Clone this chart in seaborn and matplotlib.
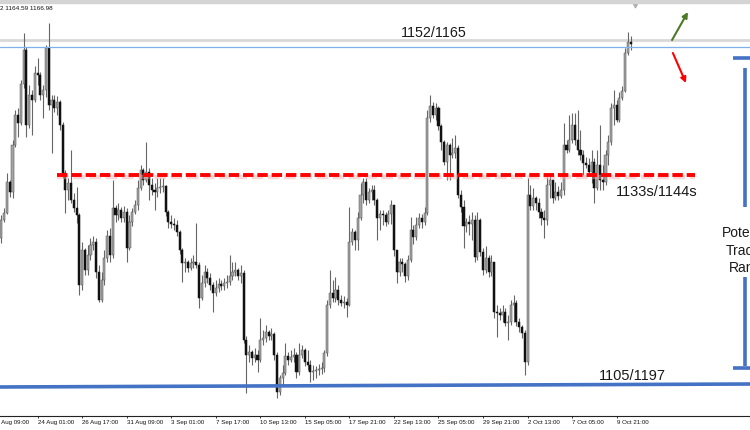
import matplotlib
matplotlib.use("Agg")
import matplotlib.pyplot as plt
from matplotlib.patches import Rectangle
import numpy as np
import pandas as pd
import seaborn as sns

# ---------------- data (H4 candles, price units) ----------------
first_open = 962
closes = [
    980, 987, 1018, 1008, 1055, 1085, 1077, 1116, 1150, 1075,
    1105, 1100, 1127, 1125, 1105, 1110, 1152, 1095, 1100, 1092,
    1098, 1075, 1027, 1010, 1017, 1000, 992, 985, 915, 950,
    930, 945, 955, 958, 928, 900, 920, 942, 964, 945,
    992, 985, 990, 982, 988, 952, 978, 988, 995, 1012,
    1030, 1020, 1028, 1015, 1010, 1008, 1012, 1013, 1014, 988,
    978, 976, 975, 968, 950, 937, 938, 932, 937, 938,
    935, 902, 917, 928, 922, 915, 907, 912, 916, 914,
    917, 918, 924, 928, 930, 924, 927, 860, 845, 848,
    842, 845, 840, 860, 862, 868, 864, 866, 845, 808,
    822, 827, 844, 840, 843, 845, 828, 845, 850, 838,
    835, 828, 829, 830, 831, 832, 847, 895, 907, 902,
    910, 900, 897, 898, 895, 958, 968, 960, 982, 1005,
    1018, 1000, 1008, 1010, 1000, 982, 986, 985, 978, 986,
    995, 950, 928, 938, 936, 924, 940, 970, 963, 975,
    982, 978, 987, 1082, 1094, 1085, 1092, 1074, 1058, 1038,
    1055, 1045, 1047, 1052, 1005, 993, 974, 978, 976, 980,
    943, 980, 948, 930, 942, 928, 938, 888, 887, 885,
    888, 877, 878, 895, 897, 878, 873, 867, 838, 1005,
    994, 1002, 997, 988, 982, 980, 1015, 1020, 1002, 1008,
    1004, 1010, 1055, 1050, 1060, 1075, 1060, 1050, 1045, 1037,
    1035, 1028, 1038, 1012, 1035, 1020, 1018, 1045, 1058, 1092,
    1095, 1080, 1102, 1109, 1147, 1158, 1156,
]
highs = [
    985, 992, 1027, 1020, 1060, 1090, 1092, 1120, 1167, 1153,
    1115, 1110, 1134, 1142, 1128, 1115, 1155, 1177, 1105, 1105,
    1104, 1100, 1078, 1030, 1022, 1050, 1007, 1013, 987, 958,
    952, 955, 962, 964, 962, 935, 928, 950, 970, 972,
    1020, 995, 997, 993, 994, 992, 985, 992, 1000, 1020,
    1035, 1032, 1058, 1032, 1022, 1017, 1022, 1022, 1022, 1015,
    990, 985, 982, 980, 970, 952, 942, 940, 942, 945,
    977, 938, 925, 935, 932, 927, 918, 920, 922, 920,
    922, 925, 945, 938, 938, 932, 935, 930, 864, 855,
    850, 852, 850, 882, 870, 875, 870, 872, 868, 848,
    825, 835, 857, 848, 850, 852, 848, 857, 855, 852,
    850, 840, 835, 834, 836, 838, 850, 900, 930, 920,
    923, 915, 905, 904, 902, 993, 972, 970, 988, 1017,
    1022, 1022, 1012, 1015, 1015, 1002, 990, 990, 988, 990,
    1000, 995, 950, 942, 942, 938, 945, 983, 975, 983,
    987, 986, 993, 1090, 1105, 1098, 1097, 1094, 1076, 1060,
    1058, 1057, 1062, 1065, 1055, 1010, 1000, 982, 985, 988,
    985, 988, 982, 952, 954, 945, 945, 938, 895, 892,
    895, 892, 885, 900, 905, 900, 882, 875, 870, 1022,
    1015, 1012, 1004, 1002, 992, 990, 1023, 1025, 1020, 1018,
    1014, 1018, 1077, 1060, 1085, 1087, 1087, 1090, 1070, 1050,
    1043, 1042, 1050, 1042, 1050, 1075, 1035, 1050, 1065, 1097,
    1110, 1100, 1108, 1114, 1152, 1168, 1164,
]
lows = [
    957, 978, 986, 1003, 1002, 1053, 1063, 1075, 1112, 1063,
    1072, 1065, 1098, 1115, 1100, 1082, 1103, 1090, 1047, 1088,
    1085, 1070, 1022, 987, 1000, 997, 988, 977, 905, 910,
    925, 925, 940, 950, 922, 898, 898, 915, 938, 938,
    942, 978, 980, 978, 978, 938, 950, 974, 986, 990,
    1010, 1015, 1018, 1000, 1005, 990, 1003, 1007, 1008, 984,
    972, 972, 970, 964, 946, 918, 928, 928, 930, 932,
    932, 892, 900, 913, 917, 910, 888, 904, 908, 910,
    910, 912, 915, 920, 924, 920, 917, 857, 807, 838,
    835, 838, 828, 838, 855, 858, 860, 860, 840, 802,
    805, 815, 825, 835, 838, 838, 822, 825, 842, 834,
    830, 818, 820, 822, 825, 826, 828, 844, 892, 898,
    898, 895, 894, 892, 883, 894, 955, 950, 950, 980,
    997, 995, 997, 1000, 995, 960, 970, 975, 974, 976,
    976, 944, 917, 924, 928, 918, 920, 938, 956, 960,
    972, 972, 975, 985, 1078, 1082, 1080, 1070, 1050, 1035,
    1020, 1020, 1042, 1042, 1002, 988, 952, 968, 965, 960,
    938, 940, 944, 925, 927, 923, 924, 882, 863, 880,
    878, 874, 860, 875, 878, 874, 868, 862, 825, 835,
    990, 990, 990, 982, 975, 962, 975, 1002, 997, 1000,
    1000, 1002, 1005, 1047, 1048, 1057, 1055, 1045, 1040, 1025,
    1032, 1024, 1017, 997, 1010, 1010, 1010, 1015, 1035, 1055,
    1075, 1078, 1078, 1100, 1108, 1145, 1150,
]
tick_labels = ["21 Aug 09:00", "24 Aug 01:00", "26 Aug 17:00", "31 Aug 09:00",
               "3 Sep 01:00", "7 Sep 17:00", "10 Sep 13:00", "15 Sep 05:00",
               "17 Sep 21:00", "22 Sep 13:00", "25 Sep 05:00", "29 Sep 21:00",
               "2 Oct 13:00", "7 Oct 05:00", "9 Oct 21:00"]
header_text = "2 1164.59 1166.98"
ask_level = 1160
upper_level = 1152.7
pivot_level = 1025
support_levels = [813, 816]
label_upper = "1152/1165"
label_pivot = "1133s/1144s"
label_support = "1105/1197"
range_text = "Potential\nTrading\nRange"

# ---------------- style ----------------
sns.set_theme(style="white")
plt.rcParams['font.family'] = ['Liberation Sans', 'DejaVu Sans']

n = len(closes)
opens = [first_open] + closes[:-1]
df = pd.DataFrame(dict(bar=np.arange(n), open=opens, close=closes,
                       high=highs, low=lows))
df['high'] = df[['high', 'open', 'close']].max(axis=1)
df['low'] = df[['low', 'open', 'close']].min(axis=1)
df['up'] = df['close'] >= df['open']
df['body_lo'] = df[['open', 'close']].min(axis=1)
df['body_h'] = (df['close'] - df['open']).abs().clip(lower=0.9)

fig = plt.figure(figsize=(7.5, 4.3), dpi=100)
fig.patch.set_facecolor('white')
ax = fig.add_axes([0, 14 / 430, 1, 416 / 430])
ax.set_facecolor('white')
ax.set_xlim(-0.503, 268.9)
ax.set_ylim(784, 1200)

# candles
ax.vlines(df['bar'], df['low'], df['high'], colors='#666666', lw=0.8, zorder=2)
up = df[df['up']]
dn = df[~df['up']]
ax.bar(up['bar'], up['body_h'], bottom=up['body_lo'], width=0.75,
       color='#a4a4a4', edgecolor='#555555', linewidth=0.35, zorder=3)
ax.bar(dn['bar'], dn['body_h'], bottom=dn['body_lo'], width=0.75,
       color='#111111', edgecolor='#111111', linewidth=0.35, zorder=3)

# horizontal levels
ax.axhline(ask_level, color='#d8d8d8', lw=2.0, zorder=1)
ax.axhline(upper_level, color='#7fb0e8', lw=0.9, zorder=4)
ax.plot([20.0, 249.1], [pivot_level - 1.5, pivot_level - 1.5], color='#f2b0b0',
        lw=3.2, ls=(0, (2.6, 1.05)), dash_capstyle='butt', alpha=0.5, zorder=4)
ax.plot([20.0, 249.1], [pivot_level, pivot_level], color='#ff0000', lw=2.8,
        ls=(0, (2.68, 1.0)), dash_capstyle='butt', zorder=5)
ax.plot([-1, 269.5], support_levels, color='#4472c4', lw=2.6, zorder=5,
        solid_capstyle='butt')

# labels on chart
ax.text(143.4, 1167.5, label_upper, fontsize=10.3, color='#1a1a1a',
        ha='left', va='center')
ax.text(220.8, 1008, label_pivot, fontsize=10.5, color='#1a1a1a',
        ha='left', va='center')
ax.text(214.5, 824, label_support, fontsize=10.5, color='#1a1a1a',
        ha='left', va='center')

# arrows
ax.annotate('', xy=(246.6, 1188), xytext=(240.9, 1160),
            arrowprops=dict(arrowstyle='-|>', color='#4e7a27', lw=1.5,
                            mutation_scale=8, shrinkA=0, shrinkB=0))
ax.annotate('', xy=(245.9, 1117), xytext=(241.2, 1147),
            arrowprops=dict(arrowstyle='-|>', color='#ff0000', lw=1.5,
                            mutation_scale=8, shrinkA=0, shrinkB=0))

# bracket for trading range
bc = '#4472c4'
ax.plot([262.8, 269.5], [1142, 1142], color=bc, lw=2.6, solid_capstyle='butt', clip_on=False)
ax.plot([267.1, 267.1], [1132, 993], color=bc, lw=2.6, solid_capstyle='butt', clip_on=False)
ax.plot([267.1, 267.1], [923, 834], color=bc, lw=2.6, solid_capstyle='butt', clip_on=False)
ax.plot([262.8, 269.5], [832, 832], color=bc, lw=2.6, solid_capstyle='butt', clip_on=False)
ax.text(268.5, 949.5, range_text, fontsize=10, color='#1a1a1a', ha='center',
        va='center', multialignment='center', linespacing=1.3, clip_on=False)

# chart shift marker
ax.plot([227.6], [1195], marker='v', markersize=3.5, color='#b0b0b0', zorder=6)

# x axis
tick_pos = [-3 + 16 * k for k in range(len(tick_labels))]
vis = [(p, l) for p, l in zip(tick_pos, tick_labels) if p >= 0]
ax.set_xticks([p for p, _ in vis])
ax.set_xticklabels([l for _, l in vis], fontsize=4.4, ha='left', color='#111111')
ax.tick_params(axis='x', direction='out', length=1.6, width=0.6, pad=1.3,
               colors='#111111', bottom=True)
ax.annotate(tick_labels[0], xy=(tick_pos[0], 0), xycoords=('data', 'axes fraction'),
            xytext=(0, -2.9), textcoords='offset points', fontsize=4.4,
            ha='left', va='top', color='#111111', annotation_clip=False)
ax.set_yticks([])
sns.despine(ax=ax, left=True, right=True, top=True, bottom=False)
ax.spines['bottom'].set_color('#222222')
ax.spines['bottom'].set_linewidth(0.8)

# top strip and header
fig.add_artist(Rectangle((0, 1 - 3 / 430), 1, 3 / 430, transform=fig.transFigure,
                         color='#d4d4d4', zorder=10))
fig.text(0.0, 1 - 8.5 / 430, header_text, fontsize=4.6, color='#111111',
         ha='left', va='center')

fig.savefig('out.png', dpi=100, facecolor='white')
